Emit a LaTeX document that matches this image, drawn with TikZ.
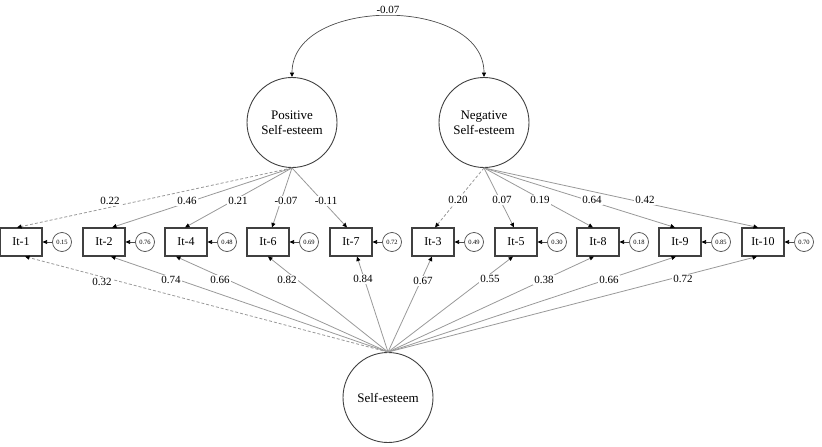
\documentclass[tikz,border=0pt]{standalone}
\usepackage{fontspec}
\setmainfont{Liberation Serif}
\usetikzlibrary{arrows.meta}
\begin{document}
\begin{tikzpicture}[x=1pt,y=-1pt,
  tip/.tip={Triangle[length=4.5pt,width=4pt,color=black]},
  item/.style={draw=black!75,line width=1.1pt,minimum width=42pt,minimum height=28pt,inner sep=0pt,font=\fontsize{12}{12}\selectfont},
  latent/.style={draw=black!75,line width=0.9pt,circle,minimum size=90pt,inner sep=0pt,align=center,font=\fontsize{13}{15}\selectfont},
  errc/.style={draw=black!70,line width=0.7pt,circle,minimum size=19pt,inner sep=0pt,font=\fontsize{6.5}{7}\selectfont},
  load/.style={draw=black!40,line width=0.8pt,-tip},
  dload/.style={load,dash pattern=on 3pt off 2pt},
  earr/.style={draw=black!70,line width=0.7pt,-tip},
  corr/.style={draw=black!70,line width=0.7pt,tip-tip},
  lab/.style={fill=white,inner sep=1pt,font=\fontsize{11}{12}\selectfont}]
\useasboundingbox (0,0) rectangle (822,447);
% latent variables
\node[latent] (P) at (292,122.5) {Positive\\Self-esteem};
\node[latent] (N) at (484,122.5) {Negative\\Self-esteem};
\node[latent] (S) at (388,397.5) {Self-esteem};
% items
\node[item] (I1) at (21,242) {It-1};
\node[item] (I2) at (104,242) {It-2};
\node[item] (I4) at (186,242) {It-4};
\node[item] (I6) at (268,242) {It-6};
\node[item] (I7) at (351,242) {It-7};
\node[item] (I3) at (433,242) {It-3};
\node[item] (I5) at (516,242) {It-5};
\node[item] (I8) at (598,242) {It-8};
\node[item] (I9) at (680,242) {It-9};
\node[item] (I10) at (763,242) {It-10};
% error terms
\node[errc] (E1) at (62,242) {0.15};
\node[errc] (E2) at (145,242) {0.76};
\node[errc] (E4) at (227,242) {0.48};
\node[errc] (E6) at (309,242) {0.69};
\node[errc] (E7) at (392,242) {0.72};
\node[errc] (E3) at (474,242) {0.49};
\node[errc] (E5) at (557,242) {0.30};
\node[errc] (E8) at (639,242) {0.18};
\node[errc] (E9) at (721,242) {0.85};
\node[errc] (E10) at (804,242) {0.70};
\foreach \i in {1,2,4,6,7,3,5,8,9,10}{\draw[earr] (E\i) -- (I\i);}
% correlation
\draw[corr] (P.north) .. controls (292,-4) and (484,-4) .. (N.north);
\node[lab] (c) at (388,10) {-0.07};
% positive loadings
\draw[dload] (P.south) -- ([xshift=-4pt]I1.north);
\draw[load] (P.south) -- ([xshift=8pt]I2.north);
\draw[load] (P.south) -- ([xshift=-1pt]I4.north);
\draw[load] (P.south) -- ([xshift=4pt]I6.north);
\draw[load] (P.south) -- ([xshift=-4pt]I7.north);
% negative loadings
\draw[dload] (N.south) -- ([xshift=2pt]I3.north);
\draw[load] (N.south) -- ([xshift=-2pt]I5.north);
\draw[load] (N.south) -- ([xshift=-5pt]I8.north);
\draw[load] (N.south) -- ([xshift=-5pt]I9.north);
\draw[load] (N.south) -- ([xshift=-5pt]I10.north);
% general loadings
\draw[dload] (S.north) -- ([xshift=4pt]I1.south);
\draw[load] (S.north) -- ([xshift=7pt]I2.south);
\draw[load] (S.north) -- ([xshift=-10pt]I4.south);
\draw[load] (S.north) -- (I6.south);
\draw[load] (S.north) -- ([xshift=6pt]I7.south);
\draw[load] (S.north) -- ([xshift=-1pt]I3.south);
\draw[load] (S.north) -- ([xshift=-3pt]I5.south);
\draw[load] (S.north) -- ([xshift=-4pt]I8.south);
\draw[load] (S.north) -- ([xshift=-4pt]I9.south);
\draw[load] (S.north) -- ([xshift=-6pt]I10.south);
% labels
\node[lab] (l1) at (110,201) {0.22};
\node[lab] (l2) at (187,201) {0.46};
\node[lab] (l4) at (238,201) {0.21};
\node[lab] (l6) at (286,201) {-0.07};
\node[lab] (l7) at (326,201) {-0.11};
\node[lab] (l3) at (458,200) {0.20};
\node[lab] (l5) at (502,200) {0.07};
\node[lab] (l8) at (540,200) {0.19};
\node[lab] (l9) at (592,200) {0.64};
\node[lab] (l10) at (645,200) {0.42};
\node[lab] (g1) at (102,282) {0.32};
\node[lab] (g2) at (171,280) {0.74};
\node[lab] (g4) at (220,280) {0.66};
\node[lab] (g6) at (287,280) {0.82};
\node[lab] (g7) at (363,279) {0.84};
\node[lab] (g3) at (423,281) {0.67};
\node[lab] (g5) at (490,279) {0.55};
\node[lab] (g8) at (544,280) {0.38};
\node[lab] (g9) at (609,280) {0.66};
\node[lab] (g10) at (683,279) {0.72};
\end{tikzpicture}
\end{document}
